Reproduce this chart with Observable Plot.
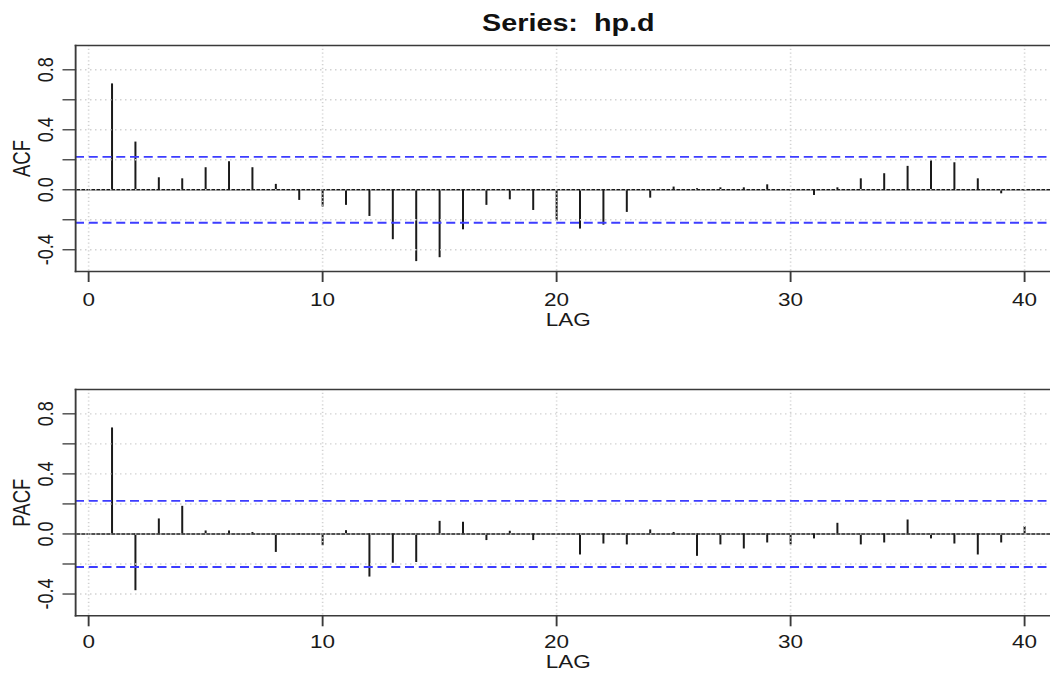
<!DOCTYPE html>
<html>
<head>
<meta charset="utf-8">
<script src="https://cdn.jsdelivr.net/npm/d3@7"></script>
<script src="https://cdn.jsdelivr.net/npm/@observablehq/plot@0.6"></script>
<style>
  html, body { margin: 0; padding: 0; background: #fff; overflow: hidden; }
  #wrap { position: relative; width: 1050px; height: 673px; overflow: hidden; background: #fff; }
  #wrap svg { position: absolute; left: 0; transform-origin: 0 0; }
</style>
</head>
<body>
<div id="wrap"></div>
<script>
// ---- data ----
const title = "Series:  hp.d";
const lags = [1,2,3,4,5,6,7,8,9,10,11,12,13,14,15,16,17,18,19,20,
              21,22,23,24,25,26,27,28,29,30,31,32,33,34,35,36,37,38,39,40];
const acfValues = [0.706,0.318,0.080,0.073,0.147,0.187,0.147,0.036,-0.071,-0.115,
                   -0.104,-0.178,-0.333,-0.479,-0.453,-0.267,-0.104,-0.067,-0.138,-0.209,
                   -0.262,-0.236,-0.151,-0.056,0.018,0.007,0.013,0.013,0.033,-0.010,
                   -0.038,0.013,0.073,0.107,0.156,0.193,0.180,0.073,-0.027,-0.011];
const pacfValues = [0.706,-0.378,0.100,0.184,0.020,0.020,0.010,-0.123,-0.005,-0.078,
                    0.022,-0.287,-0.195,-0.190,0.084,0.078,-0.044,0.018,-0.044,-0.010,
                    -0.140,-0.067,-0.073,0.027,0.010,-0.149,-0.073,-0.100,-0.060,-0.073,
                    -0.033,0.071,-0.073,-0.060,0.093,-0.033,-0.067,-0.140,-0.060,0.050];
const confBounds = [0.22, -0.22];
const xTicks = [0, 10, 20, 30, 40];
const yTicks = [-0.4, -0.2, 0.0, 0.2, 0.4, 0.6, 0.8];
const yTickLabels = [-0.4, 0.0, 0.4, 0.8];
const xLabel = "LAG";

// ---- drawing ----
const S = 1.25;            // horizontal stretch of the reference image
const W = 1050 / S;
const FONT = "'Liberation Sans', Arial, Helvetica, sans-serif";

function panel({values, yLabel, height, marginTop, marginBottom, tickPad, labDy, withTitle}) {
  const data = lags.map((lag, i) => ({lag, v: values[i]}));
  const frameStyle = {stroke: "#3a3a3a", strokeWidth: 1.5};
  const marks = [
    Plot.ruleX(data, {x: "lag", y1: 0, y2: "v", stroke: "#1a1a1a", strokeWidth: 1.6}),
    Plot.ruleY([0], {stroke: "#1a1a1a", strokeWidth: 1.5}),
    Plot.ruleY(yTicks, {y: d => d, stroke: "#d2d2d2", strokeWidth: 1.4, strokeDasharray: "1.2,2.8"}),
    Plot.ruleX(xTicks, {x: d => d, stroke: "#d2d2d2", strokeWidth: 1.3, strokeDasharray: "1.2,2.6"}),
    Plot.ruleY(confBounds, {y: d => d, stroke: "#3d3dff", strokeWidth: 1.8, strokeDasharray: "7.2,3.8"}),
    Plot.frame({anchor: "top", ...frameStyle}),
    Plot.frame({anchor: "left", ...frameStyle}),
    Plot.frame({anchor: "bottom", ...frameStyle}),
    Plot.axisX({ticks: xTicks, tickSize: 11, tickPadding: tickPad, tickFormat: d => String(d),
                label: null, fontSize: 18, stroke: "#3a3a3a", strokeWidth: 1.5}),
    Plot.axisY({ticks: yTicks, tickSize: 10, tickFormat: () => "", label: null,
                stroke: "#3a3a3a", strokeWidth: 1.3}),
    Plot.text(yTickLabels, {y: d => d, frameAnchor: "left", text: d => d.toFixed(1),
                rotate: -90, dx: -23.6, textAnchor: "middle", lineAnchor: "middle",
                fontSize: 18, fill: "#1a1a1a"}),
    Plot.text([yLabel], {frameAnchor: "left", text: d => d, rotate: -90, dx: -42.6,
                textAnchor: "middle", lineAnchor: "middle", fontSize: 18.5, fill: "#1a1a1a"}),
    Plot.text([xLabel], {frameAnchor: "bottom", text: d => d, dy: labDy,
                textAnchor: "middle", lineAnchor: "middle", fontSize: 18, fill: "#1a1a1a"})
  ];
  if (withTitle) {
    marks.push(Plot.text([title], {frameAnchor: "top", text: d => d, dy: -21.7,
                textAnchor: "middle", lineAnchor: "middle", fontSize: 23, fontWeight: "bold",
                fill: "#111"}));
  }
  const svg = Plot.plot({
    width: W, height,
    marginLeft: 60, marginRight: -8.3, marginTop, marginBottom,
    x: {type: "linear", domain: [-0.556, 41.556]},
    y: {type: "linear", domain: [-0.545, 0.962]},
    style: {fontFamily: FONT, fontSize: "18px", color: "#1a1a1a", background: "white", overflow: "hidden"},
    marks
  });
  svg.style.transform = `scaleX(${S})`;
  return svg;
}

const wrap = document.getElementById("wrap");
const acfPanel = panel({values: acfValues, yLabel: "ACF", height: 336, marginTop: 45, marginBottom: 65,
                   tickPad: 10.6, labDy: 48.7, withTitle: true});
acfPanel.style.top = "0px";
wrap.appendChild(acfPanel);
const pacfPanel = panel({values: pacfValues, yLabel: "PACF", height: 337, marginTop: 53, marginBottom: 57.7,
                   tickPad: 8.3, labDy: 46.2, withTitle: false});
pacfPanel.style.top = "336px";
wrap.appendChild(pacfPanel);
</script>
</body>
</html>
